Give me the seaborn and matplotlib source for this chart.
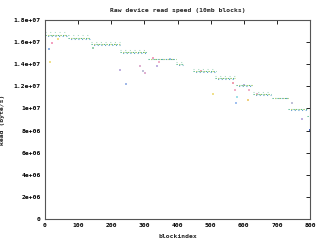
import numpy as np
import pandas as pd
import matplotlib
matplotlib.use("Agg")
import matplotlib.pyplot as plt
import seaborn as sns

# ---- data ----
seg_start   = [0, 70, 140, 227, 310, 396, 448, 512, 578, 627, 686, 734, 790]
seg_end     = [70, 136, 227, 309, 396, 418, 515, 575, 625, 683, 733, 790, 800]
main_level  = [16.60e6, 16.38e6, 15.85e6, 15.07e6, 14.50e6, 14.00e6, 13.40e6,
               12.75e6, 12.12e6, 11.28e6, 10.98e6, 9.92e6, 9.35e6]
main_level2 = [16.52e6, 16.30e6, 15.78e6, 14.98e6, 14.43e6, 13.92e6, 13.33e6,
               12.68e6, 12.05e6, 11.20e6, 10.90e6, 9.85e6, 9.28e6]
upper_level = [16.90e6, 16.62e6, 16.02e6, 15.27e6, np.nan, 14.18e6, 13.58e6,
               12.92e6, np.nan, 11.45e6, np.nan, np.nan, np.nan]

out_x = [11, 21, 14, 39, 145, 226, 245, 286, 295, 302, 327, 339, 345, 377,
         470, 506, 569, 575, 577, 580, 600, 614, 616, 640, 731, 745, 776, 799]
out_y = [15.4e6, 15.95e6, 14.2e6, 16.25e6, 15.5e6, 13.5e6, 12.25e6, 13.8e6,
         13.4e6, 13.2e6, 14.6e6, 13.8e6, 14.2e6, 14.45e6, 13.4e6, 11.3e6,
         12.3e6, 11.7e6, 10.45e6, 11.05e6, 12.1e6, 10.75e6, 11.7e6, 11.35e6,
         10.9e6, 10.5e6, 9.05e6, 8.05e6]
out_c = ['#8fb0e0', '#f4a0c0', '#f0e08a', '#f0e08a', '#9ad0b0', '#c0b0e0',
         '#a0b8e8', '#e0b0d0', '#c0c0d8', '#e0b0d0', '#f4a0c0', '#c0b0e0',
         '#f0b0c8', '#b0c8e8', '#f4a0c0', '#f0e08a', '#f0a0b0', '#f0b0c8',
         '#a0c0f0', '#a0e0e8', '#b0b0e0', '#f0d080', '#f0b0c8', '#e0b0d0',
         '#a0d0b0', '#c0c0d8', '#c0b0e0', '#4060c0']

title = "Raw device read speed (10mb blocks)"
xlabel = "blockindex"
ylabel = "Read (byte/s)"
x_ticks = [0, 100, 200, 300, 400, 500, 600, 700, 800]
y_ticks = [0, 2e6, 4e6, 6e6, 8e6, 1e7, 1.2e7, 1.4e7, 1.6e7, 1.8e7]

# ---- build long-form table ----
rows = []
for i, (s, e) in enumerate(zip(seg_start, seg_end)):
    for run, lev in (("a", main_level[i]), ("b", main_level2[i]), ("c", main_level[i]),
                     ("u", upper_level[i])):
        if not np.isnan(lev):
            rows.append(dict(seg=i, run=run, x=s, y=lev))
            rows.append(dict(seg=i, run=run, x=e, y=lev))
df = pd.DataFrame(rows)

sns.set_style("white")
fig = plt.figure(figsize=(3.2, 2.4), dpi=100)
ax = fig.add_axes([45/320, 21/240, 265/320, 199/240])

pal = {"a": "#4fb58c", "b": "#5f9fcf", "c": "#c8d46a", "u": "#a8d8c0"}
sns.lineplot(data=df, x="x", y="y", hue="run", units="seg", estimator=None,
             palette=pal, ax=ax, legend=False, linewidth=0.75)
offs = {"a": 0, "b": 1, "c": 1.5, "u": 0}
pats = {"a": (1.2, 1.2), "b": (1, 2.5), "c": (1, 3), "u": (1, 3.5)}
for line in ax.get_lines():
    c = matplotlib.colors.to_hex(line.get_color())
    for k, v in pal.items():
        if v == c:
            line.set_linestyle((offs[k], pats[k]))
            line.set_solid_capstyle("butt")
            line.set_dash_capstyle("butt")

sns.scatterplot(x=out_x, y=out_y, c=out_c, s=2, marker="s", linewidth=0, ax=ax)

ax.set_xlim(0, 800)
ax.set_ylim(0, 1.8e7)
ax.set_xticks(x_ticks)
ax.set_yticks(y_ticks)
fs = 4.6
fam = "DejaVu Sans Mono"
ax.set_xticklabels([str(t) for t in x_ticks], fontsize=fs, family=fam, fontweight="bold")
ax.set_yticklabels(["%g" % t for t in y_ticks], fontsize=fs, family=fam, fontweight="bold")
ax.tick_params(direction="in", length=3, width=0.6, top=True, right=True,
               pad=3, colors="black", labelcolor="black")
for sp in ax.spines.values():
    sp.set_visible(True)
    sp.set_color("#555555")
    sp.set_linewidth(0.8)
ax.set_xlabel(xlabel, fontsize=fs, family=fam, fontweight="bold", labelpad=4)
ax.set_ylabel(ylabel, fontsize=fs, family=fam, fontweight="bold", labelpad=6)
ax.set_title(title, fontsize=fs, family=fam, fontweight="bold", pad=6)
ax.grid(False)
fig.savefig("out.png", dpi=100)
